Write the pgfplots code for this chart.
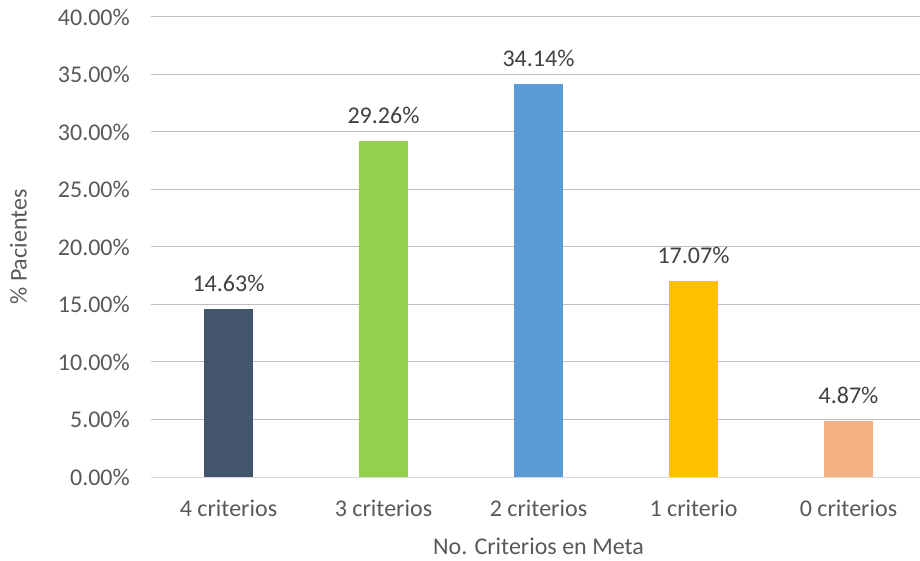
\documentclass[border=0pt]{standalone}
\usepackage{fontspec}
\setmainfont{Carlito}
\usepackage{pgfplots}
\pgfplotsset{compat=1.18}
\definecolor{c1}{HTML}{44546A}
\definecolor{c2}{HTML}{92D050}
\definecolor{c3}{HTML}{5B9BD5}
\definecolor{c4}{HTML}{FFC000}
\definecolor{c5}{HTML}{F4B183}
\definecolor{txt}{HTML}{595959}
\definecolor{lbl}{HTML}{404040}
\definecolor{grid}{HTML}{D9D9D9}
\begin{document}
\begin{tikzpicture}
\fontsize{24bp}{28bp}\selectfont
\begin{axis}[
  at={(0,0)}, anchor=south west,
  scale only axis, width=775bp, height=460bp,
  xmin=-0.5, xmax=4.5, ymin=0, ymax=40,
  xtick={0,1,2,3,4},
  xticklabels={4 criterios,3 criterios,2 criterios,1 criterio,0 criterios},
  ytick={0,5,...,40},
  yticklabel={\pgfmathprintnumber[fixed,fixed zerofill,precision=2]{\tick}\%},
  /pgf/number format/assume math mode=true,
  xmajorgrids=false, ymajorgrids=true, grid style={grid, line width=1bp},
  xtick style={draw=none}, ytick style={draw=none},
  axis line style={draw=none},
  axis x line*=bottom, axis y line*=left,
  x axis line style={draw=grid, line width=1bp},
  major tick length=0pt,
  tick label style={font=\fontsize{24bp}{28bp}\selectfont, text=txt},
  xticklabel style={yshift=-15bp},
  yticklabel style={xshift=-13bp},
  xlabel={No. Criterios en Meta},
  ylabel={\% Pacientes},
  label style={font=\fontsize{24bp}{28bp}\selectfont, text=txt},
  xlabel style={yshift=-5bp},
  ylabel style={yshift=15bp},
  nodes near coords={\pgfmathprintnumber[fixed,fixed zerofill,precision=2]{\pgfplotspointmeta}\%},
  every node near coord/.style={font=\fontsize{24bp}{28bp}\selectfont, text=lbl, yshift=9bp},
  ybar=0pt, bar width=49bp, bar shift=0pt,
  clip=false,
]
\addplot[fill=c1, draw=none] coordinates {(0,14.63)};
\addplot[fill=c2, draw=none] coordinates {(1,29.26)};
\addplot[fill=c3, draw=none] coordinates {(2,34.14)};
\addplot[fill=c4, draw=none] coordinates {(3,17.07)};
\addplot[fill=c5, draw=none] coordinates {(4,4.87)};
\end{axis}
\pgfresetboundingbox
\useasboundingbox (-151bp,-84bp) rectangle (769bp,477bp);
\end{tikzpicture}
\end{document}
